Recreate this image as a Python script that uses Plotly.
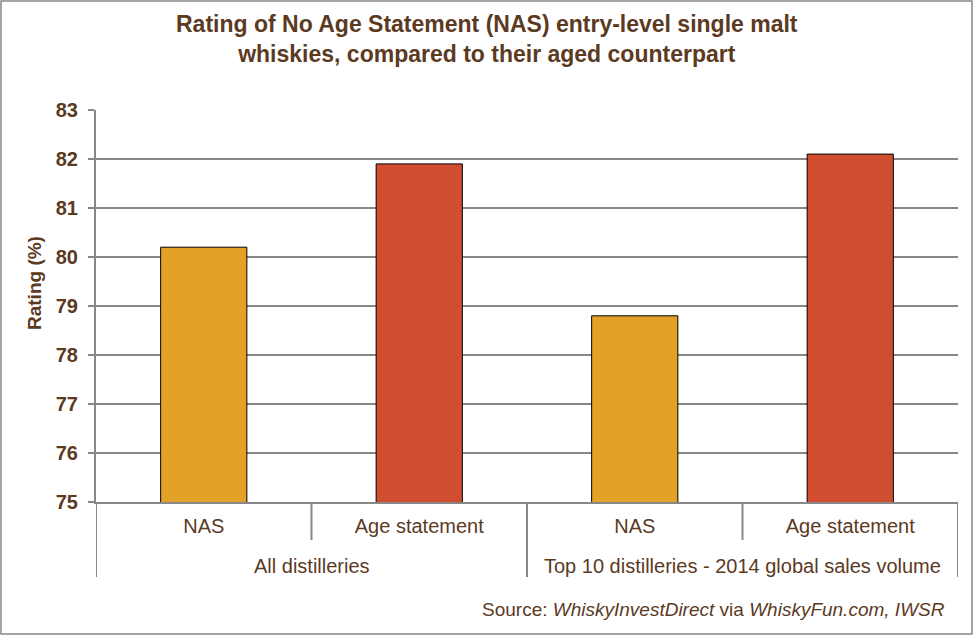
import plotly.graph_objects as go

# ---- data ----
groups = ["All distilleries", "Top 10 distilleries - 2014 global sales volume"]
inner_labels = ["NAS", "Age statement", "NAS", "Age statement"]
ratings = [80.2, 81.9, 78.8, 82.1]
bar_colors = ["#E3A127", "#D04E2F", "#E3A127", "#D04E2F"]
y_ticks = [75, 76, 77, 78, 79, 80, 81, 82, 83]

TXT = "#5B3A1F"
GRID = "#878787"
FONT = "Liberation Sans, Arial, sans-serif"

W, H = 974, 637
L, R, T, B = 96, 16, 110, 135
PW, PH = W - L - R, H - T - B

def py(px_below_axis):
    """paper y for a pixel distance below the x-axis"""
    return -px_below_axis / PH

def pyt(px_from_top):
    return (H - B - px_from_top) / PH

def pxp(px):
    return (px - L) / PW

xs = list(range(len(ratings)))

fig = go.Figure()
fig.add_trace(go.Bar(
    x=xs, y=ratings, width=0.4,
    marker=dict(color=bar_colors, line=dict(color="#000000", width=1)),
    showlegend=False, hoverinfo="y",
))

shapes = []
# dividers between inner categories (short) and groups (long)
for xb, length in [(-0.5, 75), (0.5, 38), (1.5, 75), (2.5, 38), (3.5, 75)]:
    shapes.append(dict(type="line", xref="x", yref="paper", x0=xb, x1=xb,
                       y0=0, y1=py(length), line=dict(color=GRID, width=2)))
# outer border
shapes.append(dict(type="rect", xref="paper", yref="paper",
                   x0=pxp(1), x1=pxp(972), y0=pyt(1), y1=pyt(634),
                   line=dict(color="#868686", width=1.5)))

annotations = []
# title
annotations.append(dict(
    text="<b>Rating of No Age Statement (NAS) entry-level single malt<br>whiskies, compared to their aged counterpart</b>",
    xref="paper", yref="paper", x=pxp(487), y=pyt(9), xanchor="center", yanchor="top",
    showarrow=False, font=dict(family=FONT, size=23, color=TXT)))
# group labels
for gi, g in enumerate(groups):
    annotations.append(dict(text=g, xref="x", yref="paper", x=gi * 2 + 0.5, y=py(64),
                            showarrow=False, yanchor="middle", xanchor="center",
                            font=dict(family=FONT, size=20, color=TXT)))
# y-axis title
annotations.append(dict(text="<b>Rating (%)</b>", xref="paper", yref="paper",
                        x=pxp(34), y=pyt(283), textangle=-90,
                        showarrow=False, xanchor="center", yanchor="middle",
                        font=dict(family=FONT, size=19, color=TXT)))
# source
annotations.append(dict(
    text="Source: <i>WhiskyInvestDirect</i> via <i>WhiskyFun.com, IWSR</i>",
    xref="paper", yref="paper", x=pxp(947), y=py(107), xanchor="right", yanchor="middle",
    showarrow=False, font=dict(family=FONT, size=19, color=TXT)))

fig.update_layout(
    width=W, height=H,
    margin=dict(l=L, r=R, t=T, b=B),
    paper_bgcolor="white", plot_bgcolor="white",
    xaxis=dict(range=[-0.5, 3.5], tickvals=xs, ticktext=inner_labels,
               showgrid=False, zeroline=False, showline=True, linecolor=GRID, linewidth=2,
               ticks="", tickfont=dict(family=FONT, size=20, color=TXT),
               ticklabelstandoff=5),
    yaxis=dict(range=[75, 83], tickvals=y_ticks, showgrid=True, gridcolor=GRID, gridwidth=2,
               zeroline=False, showline=True, linecolor=GRID, linewidth=2,
               ticks="outside", ticklen=6, tickwidth=2, tickcolor=GRID,
               tickfont=dict(family=FONT, size=20, color=TXT, weight="bold"),
               ticklabelstandoff=6),
    shapes=shapes, annotations=annotations,
    bargap=0.6,
)

fig.write_html("out.html")
